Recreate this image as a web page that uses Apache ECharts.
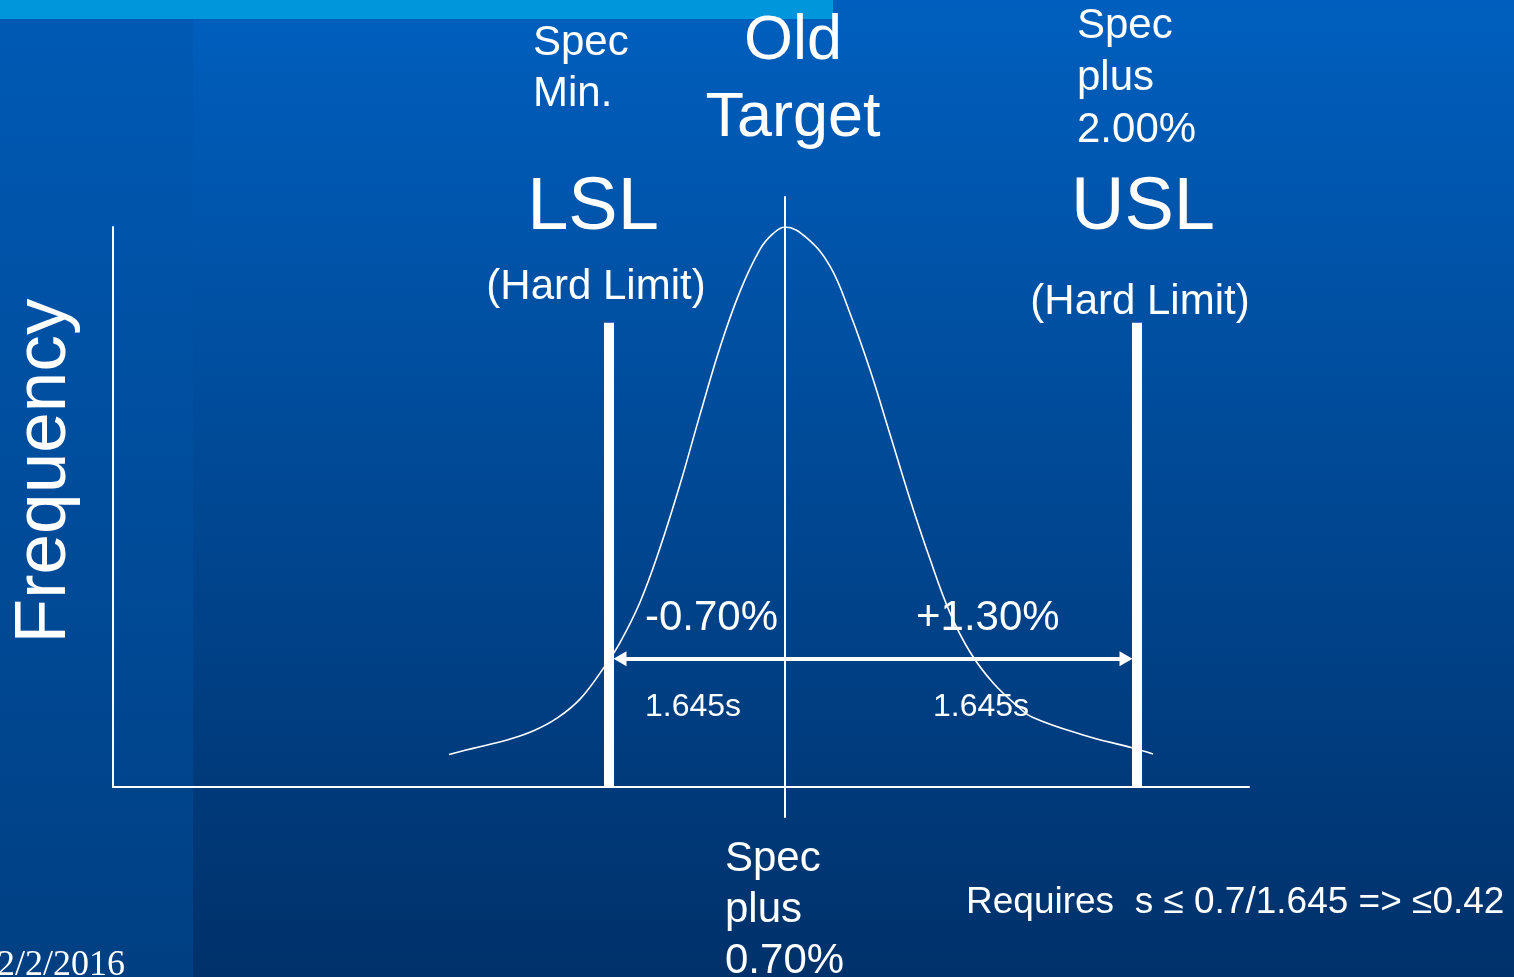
<!DOCTYPE html>
<html>
<head>
<meta charset="utf-8">
<title>Spec limits and process spread</title>
<script src="https://cdn.jsdelivr.net/npm/echarts@6/dist/echarts.min.js"></script>
<style>
  html, body { margin: 0; padding: 0; background: #00316a; }
  #chart { width: 1514px; height: 977px; }
</style>
</head>
<body>
<div id="chart"></div>
<script>
// Schematic position along the measurement axis (1 unit per pixel of plot width)
const curveX = [336, 360, 394, 420, 444, 467, 490, 507, 527, 547, 567, 587, 607, 627, 647, 660, 672,
                694, 717, 737, 757, 777, 797, 817, 837, 857, 880, 904, 920, 970, 1019, 1040];
// Relative frequency (peak = 1)
const curveY = [0.058, 0.069, 0.084, 0.100, 0.123, 0.157, 0.211, 0.258, 0.330, 0.427, 0.540, 0.665, 0.785, 0.885, 0.960, 0.988, 1.000,
                0.980, 0.930, 0.846, 0.745, 0.630, 0.514, 0.407, 0.311, 0.241, 0.186, 0.145, 0.124, 0.093, 0.070, 0.059];

const lslX = 496;            // spec minimum (hard lower limit)
const targetX = 672;         // old target: spec plus 0.70%
const uslX = 1024;           // spec plus 2.00% (hard upper limit)
const limitHeight = 0.829;   // height of the limit bars
const targetSpan = [-0.055, 1.055];
const arrowY = 0.229;

const xRange = [0, 1136];
const yRange = [0, 1];

const deltaLabels = ['-0.70%', '+1.30%'];
const sigmaLabels = ['1.645s', '1.645s'];
const limitNames = ['LSL', 'USL'];
const limitNotes = ['(Hard Limit)', '(Hard Limit)'];
const lslCaption = ['Spec', 'Min.'];
const targetCaption = ['Old', 'Target'];
const uslCaption = ['Spec', 'plus', '2.00%'];
const centerCaption = ['Spec', 'plus', '0.70%'];
const requirementText = 'Requires  s \u2264 0.7/1.645 => \u22640.42';
const yAxisTitle = 'Frequency';
const dateText = '2/2/2016';

const SANS = '"Liberation Sans", Arial, sans-serif';
const SERIF = '"Liberation Serif", "Times New Roman", serif';

function txt(text, x, y, size, align, family) {
  return {
    type: 'text',
    z: 100,
    silent: true,
    x: x, y: y,
    style: {
      text: text,
      x: 0, y: 0,
      fill: '#ffffff',
      font: size + 'px ' + (family || SANS),
      textAlign: align || 'left',
      textVerticalAlign: 'middle'
    }
  };
}

const title = txt(yAxisTitle, 45, 471, 73, 'center');
title.rotation = Math.PI / 2;

const graphics = [
  // slide background
  { type: 'rect', z: -100, silent: true, shape: { x: 0, y: 0, width: 1514, height: 977 },
    style: { fill: new echarts.graphic.LinearGradient(0, 0, 0, 1, [
      { offset: 0, color: '#005fbe' }, { offset: 1, color: '#00316a' }]) } },
  { type: 'rect', z: -99, silent: true, shape: { x: 0, y: 0, width: 193, height: 977 },
    style: { fill: new echarts.graphic.LinearGradient(0, 0, 0, 1, [
      { offset: 0, color: '#005ab5' }, { offset: 1, color: '#003f82' }]) } },
  { type: 'rect', z: -98, silent: true, shape: { x: 0, y: 0, width: 833, height: 19 },
    style: { fill: '#0096dc' } },

  // captions above the limits and target
  txt(lslCaption[0], 533, 43, 42, 'left'),
  txt(lslCaption[1], 533, 94, 42, 'left'),
  txt(targetCaption[0], 793, 42, 63, 'center'),
  txt(targetCaption[1], 793, 119, 63, 'center'),
  txt(uslCaption[0], 1077, 26, 42, 'left'),
  txt(uslCaption[1], 1077, 78, 42, 'left'),
  txt(uslCaption[2], 1077, 130, 42, 'left'),
  txt(limitNames[0], 593, 209, 74, 'center'),
  txt(limitNames[1], 1143, 209, 74, 'center'),
  txt(limitNotes[0], 596, 287, 42, 'center'),
  txt(limitNotes[1], 1140, 302, 42, 'center'),

  // spread annotations
  txt(deltaLabels[0], 645, 618, 42, 'left'),
  txt(deltaLabels[1], 916, 618, 42, 'left'),
  txt(sigmaLabels[0], 645, 707, 32, 'left'),
  txt(sigmaLabels[1], 933, 707, 32, 'left'),

  // caption under the target line
  txt(centerCaption[0], 725, 859, 42, 'left'),
  txt(centerCaption[1], 725, 910, 42, 'left'),
  txt(centerCaption[2], 725, 961, 42, 'left'),

  txt(requirementText, 966, 903, 37, 'left'),

  // axis title
  title,

  // footer date
  txt(dateText, -3, 966, 36, 'left', SERIF)
];

const chart = echarts.init(document.getElementById('chart'), null, { renderer: 'canvas' });

chart.setOption({
  animation: false,
  backgroundColor: 'transparent',
  grid: { left: 113, top: 227, width: 1136, height: 560, containLabel: false },
  xAxis: {
    type: 'value', min: xRange[0], max: xRange[1],
    axisLine: { show: true, lineStyle: { color: '#ffffff', width: 2 } },
    axisTick: { show: false }, axisLabel: { show: false }, splitLine: { show: false }
  },
  yAxis: {
    type: 'value', min: yRange[0], max: yRange[1],
    axisLine: { show: true, lineStyle: { color: '#ffffff', width: 2 } },
    axisTick: { show: false }, axisLabel: { show: false }, splitLine: { show: false }
  },
  graphic: graphics,
  series: [
    {
      name: 'distribution', type: 'line', z: 3,
      data: curveX.map((x, i) => [x, curveY[i]]),
      smooth: 0.4, symbol: 'none', showSymbol: false, silent: true,
      lineStyle: { color: '#ffffff', width: 1.6 }
    },
    {
      name: 'target', type: 'line', z: 4, clip: false,
      data: [[targetX, targetSpan[0]], [targetX, targetSpan[1]]],
      symbol: 'none', silent: true,
      lineStyle: { color: '#ffffff', width: 2 }
    },
    {
      name: 'LSL', type: 'line', z: 5,
      data: [[lslX, 0], [lslX, limitHeight]],
      symbol: 'none', silent: true,
      lineStyle: { color: '#ffffff', width: 10, cap: 'butt' },
      markLine: {
        silent: true,
        symbol: ['triangle', 'triangle'],
        symbolSize: [15, 13],
        lineStyle: { color: '#ffffff', width: 4, type: 'solid' },
        label: { show: false },
        emphasis: { disabled: true },
        // arrow tips meet the inner edges of the limit bars
        data: [[{ coord: [lslX + 11, arrowY] }, { coord: [uslX - 11, arrowY] }]]
      }
    },
    {
      name: 'USL', type: 'line', z: 5,
      data: [[uslX, 0], [uslX, limitHeight]],
      symbol: 'none', silent: true,
      lineStyle: { color: '#ffffff', width: 10, cap: 'butt' }
    }
  ]
});
</script>
</body>
</html>
